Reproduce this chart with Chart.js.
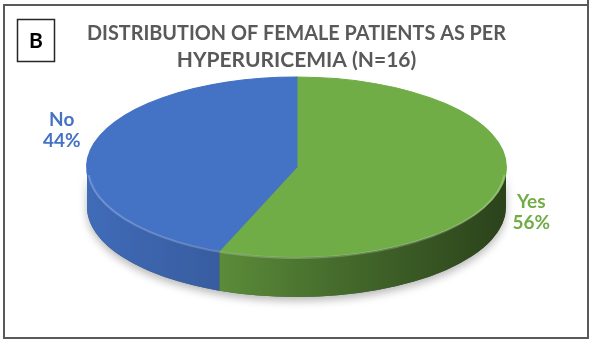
<!DOCTYPE html>
<html lang="en">
<head>
<meta charset="UTF-8">
<title>Female patients as per hyperuricemia</title>
<style>
  body { margin: 0; background: #fff; }
  #chart { display: block; }
</style>
</head>
<body>
<canvas id="chart" width="598" height="346"></canvas>
<script src="https://cdn.jsdelivr.net/npm/chart.js"></script>
<script>
// data
const categories = ['Yes', 'No'];
const percentValues = [56, 44];
const sliceColors = ['#70AD47', '#4472C4'];
const titleLines = ['DISTRIBUTION OF FEMALE PATIENTS AS PER', 'HYPERURICEMIA (N=16)'];
const panelLetter = 'B';

const DEPTH = 40; // thickness of the 3d disc

function shade(hex, f) {
    const n = parseInt(hex.slice(1), 16);
    const r = Math.round(((n >> 16) & 255) * f);
    const g = Math.round(((n >> 8) & 255) * f);
    const b = Math.round((n & 255) * f);
    return `rgb(${r},${g},${b})`;
}

// draws the pie as a tilted disc, using the arcs chart.js laid out
const pie3d = {
    id: 'pie3d',
    beforeDatasetsDraw(chart) {
        const ctx = chart.ctx;
        const ca = chart.chartArea;
        const arcs = chart.getDatasetMeta(0).data;
        const cx = (ca.left + ca.right) / 2;
        const rx = ca.width / 2;
        const ry = (ca.height - DEPTH) / 2;
        const cy = ca.top + ry;

        // soft shadow under the whole disc
        ctx.save();
        ctx.shadowColor = 'rgba(0,0,0,0.28)';
        ctx.shadowBlur = 9;
        ctx.shadowOffsetY = 4;
        ctx.beginPath();
        ctx.ellipse(cx, cy, rx, ry, 0, 0, Math.PI);
        ctx.ellipse(cx, cy + DEPTH, rx, ry, 0, Math.PI, 0, true);
        ctx.closePath();
        ctx.fillStyle = '#555';
        ctx.fill();
        ctx.restore();

        // side walls (front half only)
        arcs.forEach((arc, i) => {
            const s = arc.startAngle, e = arc.endAngle;
            for (let k = -1; k <= 1; k++) {
                const a1 = Math.max(s, k * 2 * Math.PI);
                const a2 = Math.min(e, k * 2 * Math.PI + Math.PI);
                if (a2 <= a1) continue;
                const g = ctx.createLinearGradient(cx - rx, 0, cx + rx, 0);
                g.addColorStop(0, shade(sliceColors[i], 0.94));
                g.addColorStop(0.3, shade(sliceColors[i], 0.82));
                g.addColorStop(0.6, shade(sliceColors[i], 0.62));
                g.addColorStop(1, shade(sliceColors[i], 0.38));
                ctx.beginPath();
                ctx.ellipse(cx, cy, rx, ry, 0, a1, a2);
                ctx.ellipse(cx, cy + DEPTH, rx, ry, 0, a2, a1, true);
                ctx.closePath();
                ctx.fillStyle = g;
                ctx.fill();
            }
        });

        // top face: the library's own arcs, squashed into an ellipse
        arcs.forEach(arc => {
            const R = arc.outerRadius;
            ctx.save();
            ctx.translate(cx, cy);
            ctx.scale(rx / R, ry / R);
            ctx.translate(-arc.x, -arc.y);
            arc.draw(ctx);
            ctx.restore();
        });

        // light rim on the front edge
        ctx.save();
        ctx.beginPath();
        ctx.ellipse(cx, cy + 1, rx - 1, ry, 0, 0.08, Math.PI - 0.08);
        ctx.strokeStyle = 'rgba(255,255,255,0.22)';
        ctx.lineWidth = 2;
        ctx.stroke();
        ctx.restore();

        // labels outside each slice
        ctx.save();
        ctx.font = 'bold 19px Lato';
        ctx.textAlign = 'center';
        ctx.textBaseline = 'middle';
        arcs.forEach((arc, i) => {
            const mid = (arc.startAngle + arc.endAngle) / 2;
            const px = cx + rx * Math.cos(mid);
            const py = cy + ry * Math.sin(mid);
            const side = Math.cos(mid) >= 0 ? 1 : -1;
            const lx = px + side * 29;
            const ly = py + (side > 0 ? DEPTH * 0.7 : -DEPTH * 0.5);
            ctx.fillStyle = sliceColors[i];
            ctx.fillText(categories[i], lx, ly - 10);
            ctx.fillText(percentValues[i] + '%', lx, ly + 11);
        });
        ctx.restore();
        return false;
    },
    afterDraw(chart) {
        const ctx = chart.ctx;
        ctx.save();
        // outer frame
        ctx.strokeStyle = '#595959';
        ctx.lineWidth = 2;
        ctx.strokeRect(4, 5, 584, 333);
        ctx.beginPath();
        ctx.moveTo(588, 0);
        ctx.lineTo(588, 5);
        ctx.stroke();
        // panel letter box
        ctx.strokeStyle = '#262626';
        ctx.lineWidth = 1.5;
        ctx.strokeRect(17.5, 19.5, 37, 42);
        ctx.fillStyle = '#000';
        ctx.font = 'bold 21px Lato';
        ctx.textAlign = 'center';
        ctx.textBaseline = 'middle';
        ctx.fillText(panelLetter, 36, 41);
        ctx.restore();
    }
};

new Chart(document.getElementById('chart'), {
    type: 'pie',
    data: {
        labels: categories,
        datasets: [{
            data: percentValues,
            backgroundColor: sliceColors,
            borderColor: sliceColors,
            borderWidth: 1
        }]
    },
    options: {
        responsive: false,
        animation: false,
        devicePixelRatio: 1,
        layout: { padding: { left: 87, right: 92, top: 0, bottom: 49 } },
        plugins: {
            legend: { display: false },
            tooltip: { enabled: false },
            title: {
                display: true,
                text: titleLines,
                color: '#595959',
                font: { family: 'Lato', size: 21, weight: 'bold', lineHeight: 27 / 21 },
                padding: { top: 19.5, bottom: 3.5 }
            }
        }
    },
    plugins: [pie3d]
});
</script>
</body>
</html>
